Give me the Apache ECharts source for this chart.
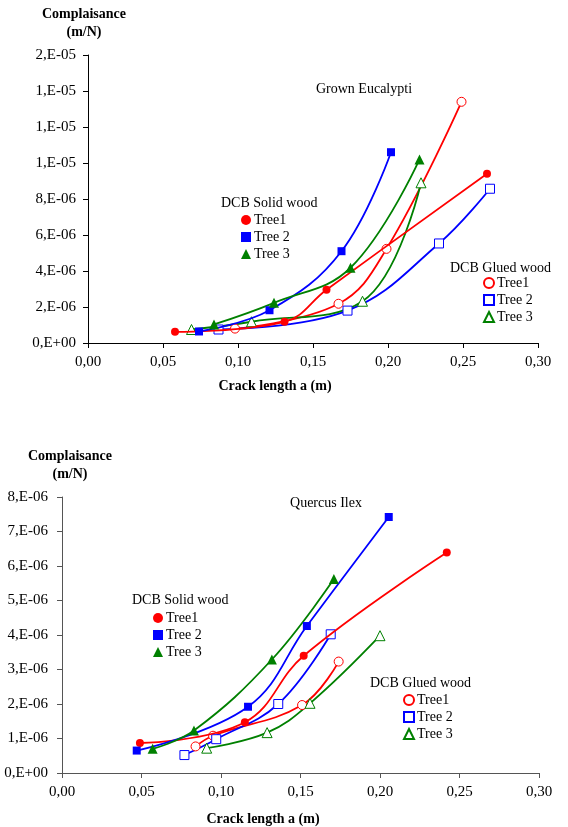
<!DOCTYPE html>
<html>
<head>
<meta charset="utf-8">
<script src="https://cdn.jsdelivr.net/npm/echarts@6/dist/echarts.min.js"></script>
<style>
html,body{margin:0;padding:0;background:#fff;}
#chart{width:568px;height:827px;}
</style>
</head>
<body>
<div id="chart"></div>
<script>
// ---- Tick labels ----
const xTickLabels = ["0,00", "0,05", "0,10", "0,15", "0,20", "0,25", "0,30"];
const eucYTickLabels = ["0,E+00", "2,E-06", "4,E-06", "6,E-06", "8,E-06", "1,E-05", "1,E-05", "1,E-05", "2,E-05"];
const queYTickLabels = ["0,E+00", "1,E-06", "2,E-06", "3,E-06", "4,E-06", "5,E-06", "6,E-06", "7,E-06", "8,E-06"];

// ---- Grown Eucalypti: [crack length a (m), compliance (m/N)] ----
const eucSolidTree1 = [[0.058, 0.62e-6], [0.131, 1.18e-6], [0.159, 2.96e-6], [0.266, 9.4e-6]];
const eucSolidTree2 = [[0.074, 0.64e-6], [0.121, 1.82e-6], [0.169, 5.1e-6], [0.202, 10.6e-6]];
const eucSolidTree3 = [[0.084, 1.03e-6], [0.124, 2.23e-6], [0.175, 4.18e-6], [0.221, 10.2e-6]];
const eucGluedTree1 = [[0.098, 0.80e-6], [0.167, 2.18e-6], [0.199, 5.23e-6], [0.249, 13.4e-6]];
const eucGluedTree2 = [[0.087, 0.75e-6], [0.173, 1.80e-6], [0.234, 5.53e-6], [0.268, 8.57e-6]];
const eucGluedTree3 = [[0.069, 0.75e-6], [0.109, 1.18e-6], [0.183, 2.32e-6], [0.222, 8.9e-6]];

// ---- Quercus Ilex ----
const queSolidTree1 = [[0.049, 0.87e-6], [0.115, 1.47e-6], [0.152, 3.40e-6], [0.242, 6.39e-6]];
const queSolidTree2 = [[0.047, 0.65e-6], [0.117, 1.92e-6], [0.154, 4.26e-6], [0.2055, 7.42e-6]];
const queSolidTree3 = [[0.057, 0.70e-6], [0.083, 1.23e-6], [0.132, 3.29e-6], [0.171, 5.62e-6]];
const queGluedTree1 = [[0.084, 0.77e-6], [0.095, 1.08e-6], [0.151, 1.97e-6], [0.174, 3.23e-6]];
const queGluedTree2 = [[0.077, 0.52e-6], [0.097, 0.98e-6], [0.136, 2.00e-6], [0.169, 4.02e-6]];
const queGluedTree3 = [[0.091, 0.72e-6], [0.129, 1.17e-6], [0.156, 2.02e-6], [0.200, 3.98e-6]];

const RED = '#ff0000', BLUE = '#0000ff', GREEN = '#008000';
const SERIF = '"Liberation Serif", "DejaVu Serif", serif';

function solid(name, data, color, symbol, size, gi) {
  return {
    type: 'line', name: name, data: data, xAxisIndex: gi, yAxisIndex: gi,
    smooth: 0.4, symbol: symbol, symbolSize: size,
    lineStyle: { color: color, width: 1.8 },
    itemStyle: { color: color, borderColor: color, borderWidth: 0 },
    z: 3, animation: false
  };
}
function glued(name, data, color, symbol, size, gi) {
  return {
    type: 'line', name: name, data: data, xAxisIndex: gi, yAxisIndex: gi,
    smooth: 0.4, symbol: symbol, symbolSize: size,
    lineStyle: { color: color, width: 1.8 },
    itemStyle: { color: '#ffffff', borderColor: color, borderWidth: 1, opacity: 1 },
    z: 2, animation: false
  };
}

function xAxisFor(gi, axisColor) {
  return {
    type: 'value', gridIndex: gi, min: 0, max: 0.3, interval: 0.05,
    splitLine: { show: false },
    axisLine: { show: true, onZero: false, lineStyle: { color: axisColor, width: 1 } },
    axisTick: { show: true, inside: false, length: 5, lineStyle: { color: axisColor } },
    axisLabel: {
      margin: 12, color: '#000', fontFamily: SERIF, fontSize: 15,
      formatter: function (v) { return xTickLabels[Math.round(v / 0.05)]; }
    }
  };
}
function yAxisFor(gi, maxV, step, labels, axisColor, margin) {
  return {
    type: 'value', gridIndex: gi, min: 0, max: maxV, interval: step,
    splitLine: { show: false },
    axisLine: { show: true, onZero: false, lineStyle: { color: axisColor, width: 1 } },
    axisTick: { show: true, inside: false, length: 5, lineStyle: { color: axisColor } },
    axisLabel: {
      margin: margin, color: '#000', fontFamily: SERIF, fontSize: 15,
      formatter: function (v) { return labels[Math.round(v / step)]; }
    }
  };
}

function legendAt(left, top, items) {
  return {
    orient: 'vertical', left: left, top: top, itemGap: 3,
    itemWidth: 10, itemHeight: 10, selectedMode: false,
    textStyle: { fontFamily: SERIF, fontSize: 14, color: '#000', padding: [0, 0, 0, -2] },
    formatter: function (n) { return n.replace(/\u200b/g, ''); },
    data: items
  };
}

function text(x, y, str, bold, size) {
  return {
    type: 'text', x: x, y: y,
    style: {
      text: str, fill: '#000', align: 'center', verticalAlign: 'middle',
      font: (bold ? 'bold ' : '') + size + 'px ' + SERIF
    }
  };
}
function textL(x, y, str, size) {
  return {
    type: 'text', x: x, y: y,
    style: { text: str, fill: '#000', align: 'left', verticalAlign: 'middle', font: size + 'px ' + SERIF }
  };
}

// glued series use zero-width space suffix so they are distinct legend entries
const ZW = '\u200b';

const option = {
  backgroundColor: '#ffffff',
  animation: false,
  grid: [
    { left: 88, top: 55, width: 450, height: 288 },
    { left: 62, top: 497, width: 477, height: 276 }
  ],
  xAxis: [xAxisFor(0, '#000'), xAxisFor(1, '#555')],
  yAxis: [
    yAxisFor(0, 16e-6, 2e-6, eucYTickLabels, '#000', 12),
    yAxisFor(1, 8e-6, 1e-6, queYTickLabels, '#555', 14)
  ],
  legend: [
    legendAt(236, 208, [
      { name: 'Tree1', icon: 'circle' }, { name: 'Tree 2', icon: 'rect' }, { name: 'Tree 3', icon: 'triangle' }
    ]),
    legendAt(478, 271, [
      { name: 'Tree1' + ZW, icon: 'circle' }, { name: 'Tree 2' + ZW, icon: 'rect' }, { name: 'Tree 3' + ZW, icon: 'triangle' }
    ]),
    legendAt(148, 606, [
      { name: 'Tree1', icon: 'circle' }, { name: 'Tree 2', icon: 'rect' }, { name: 'Tree 3', icon: 'triangle' }
    ]),
    legendAt(398, 688, [
      { name: 'Tree1' + ZW, icon: 'circle' }, { name: 'Tree 2' + ZW, icon: 'rect' }, { name: 'Tree 3' + ZW, icon: 'triangle' }
    ])
  ],
  graphic: [
    text(84, 14, 'Complaisance', true, 14),
    text(84, 32, '(m/N)', true, 14),
    text(275, 386, 'Crack length a (m)', true, 14),
    text(364, 89, 'Grown Eucalypti', false, 14),
    textL(221, 203, 'DCB Solid wood', 14),
    textL(450, 268, 'DCB Glued wood', 14),

    text(70, 456, 'Complaisance', true, 14),
    text(70, 474, '(m/N)', true, 14),
    text(263, 819, 'Crack length a (m)', true, 14),
    text(326, 503, 'Quercus Ilex', false, 14),
    textL(132, 600, 'DCB Solid wood', 14),
    textL(370, 683, 'DCB Glued wood', 14)
  ],
  series: [
    glued('Tree1' + ZW, eucGluedTree1, RED, 'circle', 9, 0),
    glued('Tree 2' + ZW, eucGluedTree2, BLUE, 'rect', 9, 0),
    glued('Tree 3' + ZW, eucGluedTree3, GREEN, 'triangle', 10, 0),
    solid('Tree1', eucSolidTree1, RED, 'circle', 8, 0),
    solid('Tree 2', eucSolidTree2, BLUE, 'rect', 8, 0),
    solid('Tree 3', eucSolidTree3, GREEN, 'triangle', 10, 0),

    glued('Tree1' + ZW, queGluedTree1, RED, 'circle', 9, 1),
    glued('Tree 2' + ZW, queGluedTree2, BLUE, 'rect', 9, 1),
    glued('Tree 3' + ZW, queGluedTree3, GREEN, 'triangle', 10, 1),
    solid('Tree1', queSolidTree1, RED, 'circle', 8, 1),
    solid('Tree 2', queSolidTree2, BLUE, 'rect', 8, 1),
    solid('Tree 3', queSolidTree3, GREEN, 'triangle', 10, 1)
  ]
};

const chart = echarts.init(document.getElementById('chart'), null, { renderer: 'canvas' });
chart.setOption(option);
</script>
</body>
</html>
